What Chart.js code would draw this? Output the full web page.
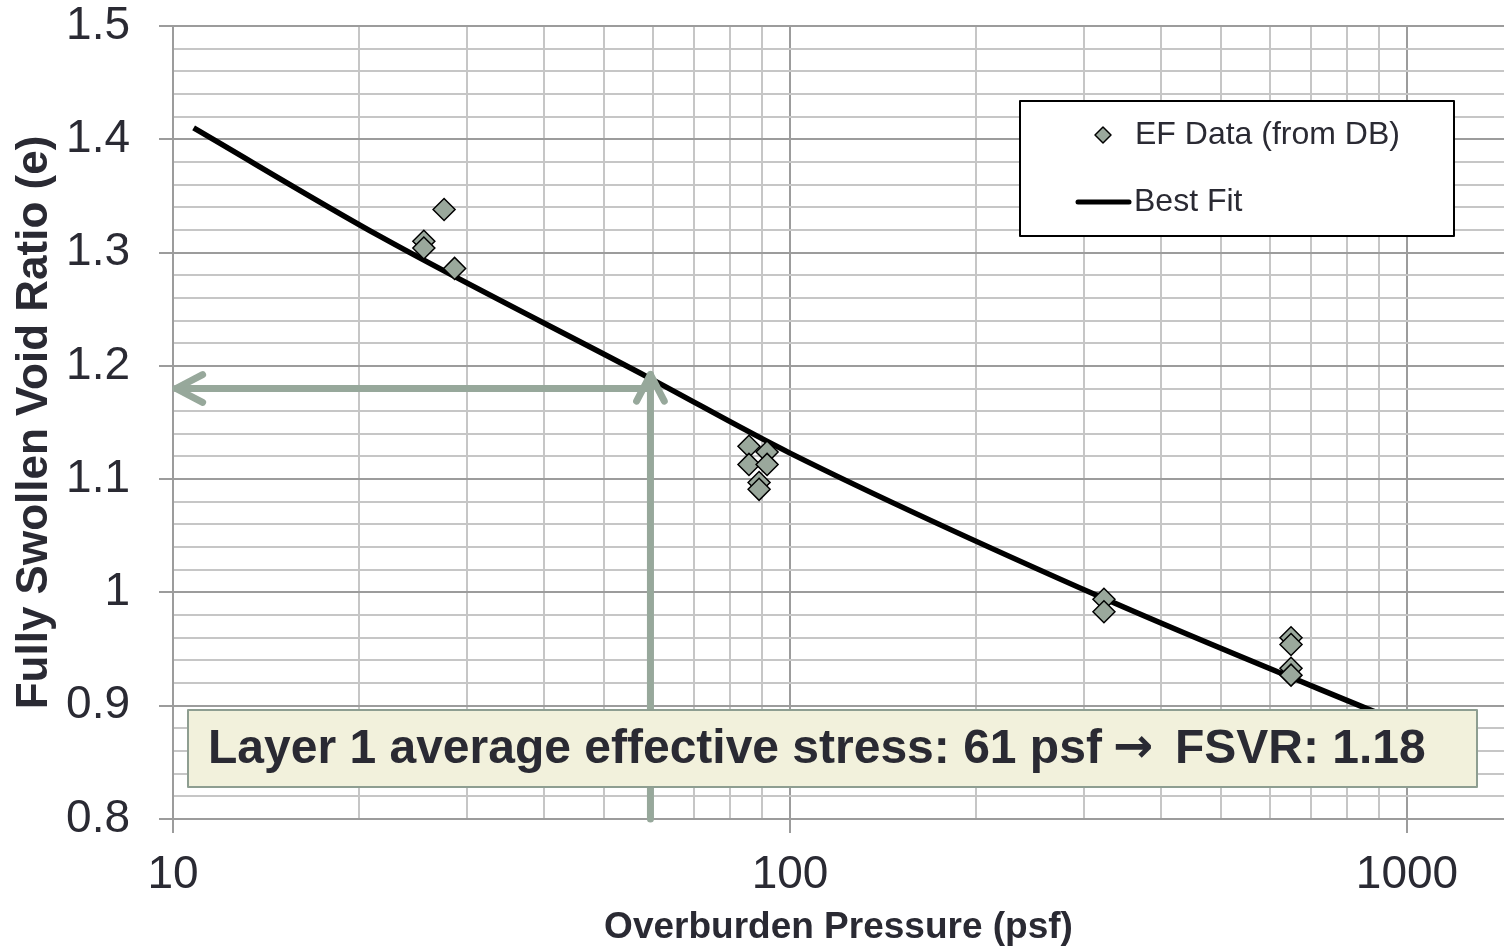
<!DOCTYPE html>
<html>
<head>
<meta charset="utf-8">
<script src="https://cdn.jsdelivr.net/npm/chart.js@4"></script>
<style>
html, body { margin: 0; padding: 0; background: #fff; overflow: hidden; }
#wrap { width: 1504px; height: 952px; }
#chart { display: block; }
</style>
</head>
<body>
<div id="wrap"><canvas id="chart" width="1504" height="952"></canvas></div>
<script>
// EF data
const pressure = [25.5, 25.5, 27.5, 28.6, 85.8, 85.8, 91.8, 91.8, 89.1, 89.1, 322.7, 322.7, 648.6, 648.6, 648.6, 648.6]
const voidRatio = [1.310, 1.304, 1.338, 1.286, 1.129, 1.113, 1.124, 1.113, 1.097, 1.091, 0.994, 0.983, 0.960, 0.954, 0.933, 0.927]
// best fit curve
const fitPressure = [10.8, 21.7, 59.3, 100, 321.6, 864.8, 950]
const fitVoidRatio = [1.410, 1.314, 1.189, 1.123, 0.995, 0.897, 0.888]

const xMajorTicks = [10, 100, 1000]
const xMinorTicks = [20, 30, 40, 50, 60, 70, 80, 90, 200, 300, 400, 500, 600, 700, 800, 900]
const yMajorTicks = [0.8, 0.9, 1, 1.1, 1.2, 1.3, 1.4, 1.5]
const yMinorTicks = [0.82, 0.84, 0.86, 0.88, 0.92, 0.94, 0.96, 0.98, 1.02, 1.04, 1.06, 1.08,
    1.12, 1.14, 1.16, 1.18, 1.22, 1.24, 1.26, 1.28, 1.32, 1.34, 1.36, 1.38, 1.42, 1.44, 1.46, 1.48]

// arrows as drawn on the picture (they sit a bit left of 61)
const arrowStress = 59.4
const arrowFsvr = 1.18
const notePre = 'Layer 1 average effective stress: 61 psf'
const noteArrow = '\u2192'
const notePost = 'FSVR: 1.18'

const FONT = '"Liberation Sans", Arial, sans-serif'
const TEXT = '#2a2a33'
const GRID_MAJOR = '#9c9c9c'
const GRID_MINOR = '#c6c6c6'
const ARROW = '#97a89b'
const MARKER = '#9aa89c'

function toPoints(xs, ys) {
    return xs.map((x, i) => ({x: x, y: ys[i]}))
}

function drawArrow(ctx, x1, y1, x2, y2) {
    const ang = Math.atan2(y2 - y1, x2 - x1)
    const len = 30, spread = 0.48
    ctx.beginPath()
    ctx.moveTo(x1, y1)
    ctx.lineTo(x2, y2)
    ctx.stroke()
    ctx.beginPath()
    ctx.moveTo(x2 - len * Math.cos(ang - spread), y2 - len * Math.sin(ang - spread))
    ctx.lineTo(x2, y2)
    ctx.lineTo(x2 - len * Math.cos(ang + spread), y2 - len * Math.sin(ang + spread))
    ctx.stroke()
}

function drawDiamond(ctx, x, y, r) {
    ctx.beginPath()
    ctx.moveTo(x - r, y)
    ctx.lineTo(x, y - r)
    ctx.lineTo(x + r, y)
    ctx.lineTo(x, y + r)
    ctx.closePath()
    ctx.fillStyle = MARKER
    ctx.fill()
    ctx.lineWidth = 1.5
    ctx.strokeStyle = '#000'
    ctx.stroke()
}

const overlay = {
    id: 'overlay',
    afterDatasetsDraw(chart) {
        const ctx = chart.ctx
        const xs = chart.scales.x, ys = chart.scales.y
        const ax = xs.getPixelForValue(arrowStress)
        const ay = ys.getPixelForValue(arrowFsvr)
        ctx.save()
        // arrows
        ctx.strokeStyle = ARROW
        ctx.lineWidth = 7
        ctx.lineCap = 'round'
        ctx.lineJoin = 'round'
        drawArrow(ctx, ax, ys.getPixelForValue(0.8), ax, ay - 14)
        drawArrow(ctx, ax, ay, xs.getPixelForValue(10) + 3, ay)

        // note box
        ctx.fillStyle = '#f2f1dc'
        ctx.fillRect(188, 710, 1289, 77)
        ctx.lineWidth = 2
        ctx.strokeStyle = '#8e9e91'
        ctx.strokeRect(188, 710, 1289, 77)
        ctx.fillStyle = TEXT
        ctx.textBaseline = 'middle'
        ctx.textAlign = 'left'
        ctx.font = 'bold 48px ' + FONT
        ctx.fillText(notePre, 208, 750)
        ctx.fillText(notePost, 1175, 750)
        ctx.font = 'bold 48px "DejaVu Sans", sans-serif'
        const aw = ctx.measureText(noteArrow).width
        ctx.fillText(noteArrow, 1133 - aw / 2, 750)

        // legend
        ctx.fillStyle = '#fff'
        ctx.fillRect(1020, 101, 434, 135)
        ctx.lineWidth = 2
        ctx.strokeStyle = '#000'
        ctx.strokeRect(1020, 101, 434, 135)
        drawDiamond(ctx, 1103, 135, 8)
        ctx.beginPath()
        ctx.moveTo(1078, 202)
        ctx.lineTo(1129, 202)
        ctx.lineWidth = 5
        ctx.lineCap = 'round'
        ctx.strokeStyle = '#000'
        ctx.stroke()
        ctx.fillStyle = TEXT
        ctx.font = '32px ' + FONT
        ctx.fillText('EF Data (from DB)', 1135, 135)
        ctx.fillText('Best Fit', 1134, 202)
        ctx.restore()
    }
}

new Chart(document.getElementById('chart'), {
    type: 'scatter',
    plugins: [overlay],
    data: {
        datasets: [
            {
                label: 'EF Data (from DB)',
                data: toPoints(pressure, voidRatio),
                pointStyle: 'rectRot',
                pointRadius: 11,
                pointHoverRadius: 11,
                backgroundColor: MARKER,
                borderColor: '#000',
                borderWidth: 1.5,
                order: 0
            },
            {
                label: 'Best Fit',
                type: 'line',
                data: toPoints(fitPressure, fitVoidRatio),
                borderColor: '#000',
                borderWidth: 5.5,
                pointRadius: 0,
                cubicInterpolationMode: 'monotone',
                fill: false,
                order: 1
            }
        ]
    },
    options: {
        responsive: false,
        animation: false,
        devicePixelRatio: 1,
        layout: {autoPadding: false, padding: {top: 26, right: 0, left: 0, bottom: 0}},
        plugins: {
            legend: {display: false},
            tooltip: {enabled: false}
        },
        scales: {
            x: {
                type: 'logarithmic',
                min: 10,
                max: 1436,
                afterBuildTicks: scale => {
                    scale.ticks = xMajorTicks.concat(xMinorTicks).sort((a, b) => a - b).map(v => ({value: v}))
                },
                afterFit: scale => {
                    scale.height = 133
                    scale.paddingLeft = 0
                    scale.paddingRight = 0
                },
                grid: {
                    color: c => xMajorTicks.includes(c.tick && c.tick.value) ? GRID_MAJOR : GRID_MINOR,
                    tickColor: c => xMajorTicks.includes(c.tick && c.tick.value) ? GRID_MAJOR : 'transparent',
                    lineWidth: 2,
                    tickLength: 14
                },
                border: {color: GRID_MAJOR, width: 2},
                ticks: {
                    autoSkip: false,
                    maxRotation: 0,
                    minRotation: 0,
                    padding: 19,
                    color: TEXT,
                    font: {family: FONT, size: 46, lineHeight: 1},
                    callback: v => xMajorTicks.includes(v) ? String(v) : ''
                },
                title: {
                    display: true,
                    text: 'Overburden Pressure (psf)',
                    color: TEXT,
                    font: {family: FONT, size: 37, weight: 'bold', lineHeight: 1.2},
                    padding: {top: 0, bottom: 2}
                }
            },
            y: {
                min: 0.8,
                max: 1.5,
                afterBuildTicks: scale => {
                    scale.ticks = yMajorTicks.concat(yMinorTicks).sort((a, b) => a - b).map(v => ({value: v}))
                },
                afterFit: scale => {
                    scale.width = 173
                    scale.paddingTop = 0
                    scale.paddingBottom = 0
                },
                grid: {
                    color: c => yMajorTicks.includes(c.tick && c.tick.value) ? GRID_MAJOR : GRID_MINOR,
                    tickColor: c => yMajorTicks.includes(c.tick && c.tick.value) ? GRID_MAJOR : 'transparent',
                    lineWidth: 2,
                    tickLength: 14
                },
                border: {color: GRID_MAJOR, width: 2},
                ticks: {
                    autoSkip: false,
                    padding: 29,
                    color: TEXT,
                    font: {family: FONT, size: 46, lineHeight: 1},
                    callback: v => yMajorTicks.includes(v) ? String(v) : ''
                },
                title: {
                    display: true,
                    text: 'Fully Swollen Void Ratio (e)',
                    color: TEXT,
                    font: {family: FONT, size: 44, weight: 'bold', lineHeight: 1.2},
                    padding: {top: 8, bottom: 0}
                }
            }
        }
    }
})
</script>
</body>
</html>
